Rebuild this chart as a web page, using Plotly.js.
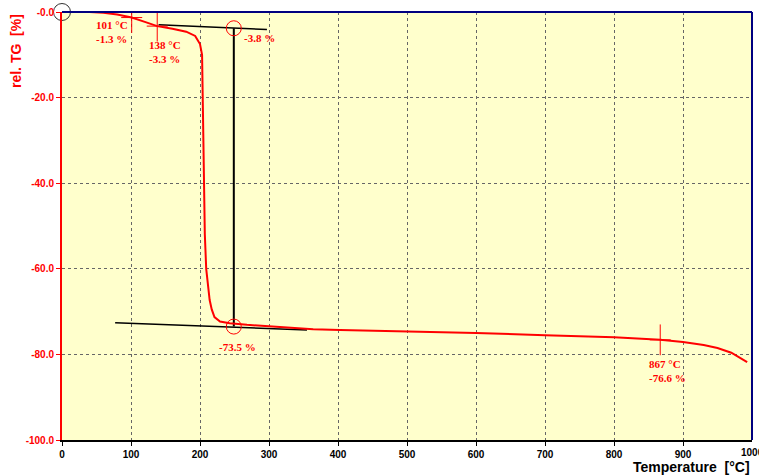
<!DOCTYPE html>
<html><head><meta charset="utf-8">
<script src="https://cdn.plot.ly/plotly-3.0.1.min.js"></script>
<style>html,body{margin:0;padding:0;background:#fff;}</style>
</head><body><div id="chart" style="width:759px;height:476px;"></div>
<script>
// TG curve (temperature °C, relative mass %)
var temp = [40, 60, 80, 101, 120, 138, 160, 180, 193, 200, 203, 204, 205, 206, 207, 209, 212, 214, 217, 221, 229, 243, 268, 301, 364, 403, 461, 550, 600, 700, 800, 867, 900, 930, 950, 970, 985, 993];
var tg   = [0, -0.2, -0.6, -1.3, -2.3, -3.3, -3.9, -4.6, -5.6, -7.5, -10, -20, -30, -40, -52, -60, -65, -67.3, -69.5, -71.3, -72.3, -72.7, -73.1, -73.5, -74.1, -74.3, -74.5, -74.8, -75.0, -75.5, -76.0, -76.6, -77.1, -77.8, -78.5, -79.6, -81.0, -81.8];
// evaluation construction lines
var upperTanX = [140, 297], upperTanY = [-3.0, -4.1];
var lowerTanX = [77, 355], lowerTanY = [-72.6, -74.3];
var stepX = [249, 249], stepY = [-3.8, -73.5];
// evaluation markers
var markX = [101, 138, 867], markY = [-1.3, -3.3, -76.6];
var circX = [249, 249], circY = [-3.8, -73.5];
var originX = [0], originY = [0];
// labels
var labelX = [47, 123, 261, 225, 848];
var labelY = [-1.1, -5.8, -4.1, -76.3, -80.4];
var labelText = ['101 °C<br>-1.3 %', '138 °C<br>-3.3 %', '-3.8 %', '-73.5 %', '867 °C<br>-76.6 %'];
var xTicks = [0,100,200,300,400,500,600,700,800,900];
var xLastTick = [1000];
var yTicks = [0,-20,-40,-60,-80,-100];
var yTickText = ['-0.0','-20.0','-40.0','-60.0','-80.0','-100.0'];

var traces = [
 {x: upperTanX, y: upperTanY, mode:'lines', line:{color:'#000', width:1.5}, hoverinfo:'skip'},
 {x: lowerTanX, y: lowerTanY, mode:'lines', line:{color:'#000', width:1.5}, hoverinfo:'skip'},
 {x: stepX, y: stepY, mode:'lines', line:{color:'#000', width:2}, hoverinfo:'skip'},
 {x: temp, y: tg, mode:'lines', line:{color:'#ff0000', width:2}},
 {x: markX, y: markY, mode:'markers', marker:{symbol:'line-ns-open', size:22, color:'#ff0000', line:{color:'#ff0000', width:1}}},
 {x: markX, y: markY, mode:'markers', marker:{symbol:'line-ew-open', size:15, color:'#ff0000', line:{color:'#ff0000', width:1}}},
 {x: circX, y: circY, mode:'markers', marker:{symbol:'circle-open', size:15, color:'#ff0000', line:{color:'#ff0000', width:1}}},
 {x: originX, y: originY, mode:'markers', cliponaxis:false, marker:{symbol:'circle-open', size:17, color:'#333', line:{color:'#333', width:1}}}
];

var annotations = labelText.map(function(t,i){
  return {x: labelX[i], y: labelY[i], xref:'x', yref:'y', text:t, showarrow:false, xanchor:'left', yanchor:'top', align:'left',
    font:{family:'Liberation Serif, Times New Roman, serif', size:11, color:'#ff0000', weight:'bold'}};
});
annotations.push({x:xLastTick[0], y:0, xref:'x', yref:'paper', xanchor:'center', yanchor:'top', yshift:-5, text:String(xLastTick[0]), showarrow:false,
  font:{family:'Liberation Sans, Arial, sans-serif', size:10, color:'#000', weight:'bold'}});
annotations.push({x:1, y:0, xref:'paper', yref:'paper', xanchor:'right', yanchor:'top', yshift:-17, text:'Temperature  [°C]', showarrow:false,
  font:{family:'Liberation Sans, Arial, sans-serif', size:14, color:'#000', weight:'bold'}});
annotations.push({x:0, y:1, xref:'paper', yref:'paper', xanchor:'center', yanchor:'top', xshift:-46, yshift:0, textangle:-90, text:'rel. TG  [%]', showarrow:false,
  font:{family:'Liberation Sans, Arial, sans-serif', size:14, color:'#ff0000', weight:'bold'}});

var layout = {
  width:759, height:476,
  margin:{l:62, r:7, t:12, b:36},
  paper_bgcolor:'#ffffff', plot_bgcolor:'#ffffcc',
  showlegend:false,
  xaxis:{range:[0,1000], tickvals:xTicks, ticks:'outside', ticklen:4, tickcolor:'#000',
    showline:true, linecolor:'#000', linewidth:1.5, showgrid:true, gridcolor:'#666', griddash:'dot', gridwidth:1, zeroline:false,
    tickfont:{family:'Liberation Sans, Arial, sans-serif', size:10, color:'#000', weight:'bold'}},
  yaxis:{range:[-100,0], tickvals:yTicks, ticktext:yTickText, ticks:'outside', ticklen:4, tickcolor:'#ff0000',
    showline:true, linecolor:'#ff0000', linewidth:2, showgrid:true, gridcolor:'#666', griddash:'dot', gridwidth:1, zeroline:false,
    tickfont:{family:'Liberation Sans, Arial, sans-serif', size:10, color:'#ff0000', weight:'bold'}},
  shapes:[
    {type:'line', xref:'paper', yref:'paper', x0:0, x1:1, y0:1, y1:1, line:{color:'#000080', width:2}},
    {type:'line', xref:'paper', yref:'paper', x0:1, x1:1, y0:0, y1:1, line:{color:'#000080', width:2}}
  ],
  annotations:annotations
};
Plotly.newPlot('chart', traces, layout, {staticPlot:true, displayModeBar:false});
</script></body></html>
